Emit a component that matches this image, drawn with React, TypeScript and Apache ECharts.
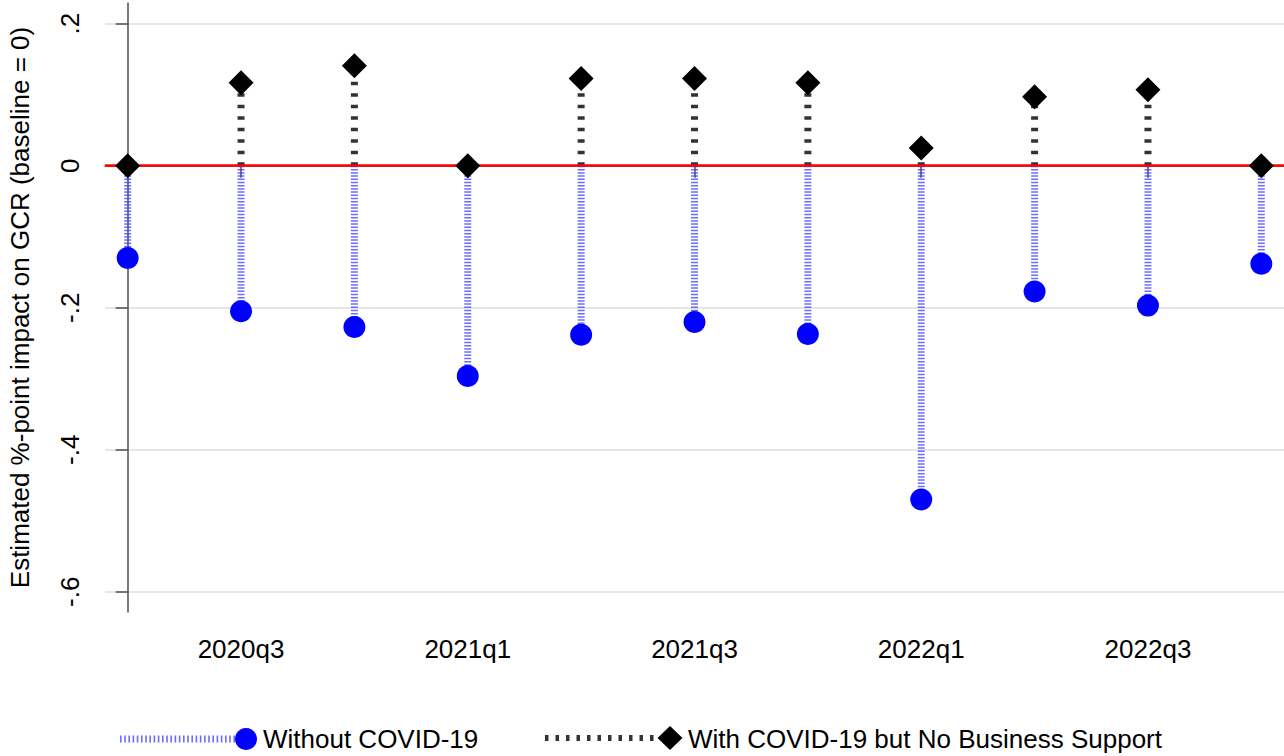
import React, { useEffect, useRef } from 'react';
import * as echarts from 'echarts';

const quarters = ['2020q2', '2020q3', '2020q4', '2021q1', '2021q2', '2021q3', '2021q4', '2022q1', '2022q2', '2022q3', '2022q4'];
const withoutCovid = [-0.130, -0.205, -0.227, -0.296, -0.238, -0.220, -0.237, -0.470, -0.177, -0.197, -0.138];
const withCovidNoSupport = [0, 0.117, 0.141, 0, 0.123, 0.123, 0.117, 0.025, 0.097, 0.107, 0];
const yTicks = [-0.6, -0.4, -0.2, 0, 0.2];
const xTickIdx = [1, 3, 5, 7, 9];
const seriesNames = ['Without COVID-19', 'With COVID-19 but No Business Support'];
const yTitle = 'Estimated %-point impact on GCR (baseline = 0)';

const FONT = '"Liberation Sans", Arial, sans-serif';
const BLUE = '#0000ff';
const AXIS = '#4d4d4d';

const fmtY = (v: number) => {
  if (Math.abs(v) < 1e-9) return '0';
  const s = Math.abs(v).toFixed(1).replace(/^0/, '');
  return (v < 0 ? '-' : '') + s;
};

const dropLine = (stroke: string, lineWidth: number, lineDash: number[], opacity: number) =>
  (params: any, api: any) => {
    const x = api.value(0);
    const y = api.value(1);
    const p0 = api.coord([x, 0]);
    const p1 = api.coord([x, y]);
    return {
      type: 'line',
      shape: { x1: p0[0], y1: p0[1], x2: p1[0], y2: p1[1] },
      style: { stroke, lineWidth, lineDash, opacity },
    };
  };

export default function App() {
  const ref = useRef<HTMLDivElement>(null);
  useEffect(() => {
    if (!ref.current) return;
    const chart = echarts.init(ref.current, undefined, { renderer: 'svg' });
    const blueData = withoutCovid.map((v, i) => [i, v]);
    const blackData = withCovidNoSupport.map((v, i) => [i, v]);
    const textStyle = { fontFamily: FONT, fontSize: 26, color: '#000' };
    chart.setOption({
      animation: false,
      backgroundColor: '#fff',
      grid: { left: 105, right: 0, top: 3, bottom: 144, containLabel: false, outerBoundsMode: 'none' },
      xAxis: {
        type: 'value',
        min: -0.2,
        max: 10.2,
        splitLine: { show: false },
        axisLine: { show: true, lineStyle: { color: AXIS, width: 1.5 } },
        axisTick: { show: true, length: 12, customValues: xTickIdx, lineStyle: { color: AXIS, width: 1.5 } },
        axisLabel: {
          customValues: xTickIdx,
          formatter: (v: number) => quarters[Math.round(v)],
          margin: 24,
          ...textStyle,
        },
      },
      yAxis: {
        type: 'value',
        min: -0.6285,
        max: 0.2292,
        name: yTitle,
        nameLocation: 'middle',
        nameGap: 72,
        nameRotate: 90,
        nameTextStyle: { ...textStyle, padding: [0, 0, 0, 0] },
        axisLine: { show: true, lineStyle: { color: AXIS, width: 1.5 } },
        axisTick: { show: true, length: 12, customValues: yTicks, lineStyle: { color: AXIS, width: 1.5 } },
        axisLabel: {
          customValues: yTicks,
          formatter: fmtY,
          rotate: 90,
          margin: 22,
          ...textStyle,
        },
        splitLine: { show: true, lineStyle: { color: '#e6e6e6', width: 2 } },
      },
      series: [
        {
          type: 'custom',
          name: seriesNames[0] + ' line',
          renderItem: dropLine('#3b3bff', 7, [1.5, 1.7], 0.75),
          encode: { x: 0, y: 1 },
          data: blueData,
          z: 2,
        },
        {
          type: 'custom',
          name: seriesNames[1] + ' line',
          renderItem: dropLine('#333333', 7, [3.5, 8], 1),
          encode: { x: 0, y: 1 },
          data: blackData,
          z: 2,
        },
        {
          type: 'line',
          data: [],
          markLine: {
            silent: true,
            symbol: 'none',
            label: { show: false },
            lineStyle: { color: '#ff0000', width: 2.5, type: 'solid' },
            data: [{ yAxis: 0 }],
          },
          z: 3,
        },
        {
          type: 'scatter',
          name: seriesNames[0],
          data: blueData,
          symbol: 'circle',
          symbolSize: 22,
          itemStyle: { color: BLUE, opacity: 1 },
          z: 5,
        },
        {
          type: 'scatter',
          name: seriesNames[1],
          data: blackData,
          symbol: 'diamond',
          symbolSize: [25, 25],
          itemStyle: { color: '#000', opacity: 1 },
          z: 5,
        },
      ],
      graphic: [
        {
          type: 'line',
          shape: { x1: 120, y1: 739, x2: 236, y2: 739 },
          style: { stroke: '#3b3bff', lineWidth: 7, lineDash: [1.6, 2.6], opacity: 0.75 },
        },
        { type: 'circle', shape: { cx: 246, cy: 739, r: 11 }, style: { fill: BLUE } },
        {
          type: 'text',
          x: 263,
          y: 739,
          style: { text: seriesNames[0], font: `26px ${FONT}`, fill: '#000', verticalAlign: 'middle', align: 'left' },
        },
        {
          type: 'line',
          shape: { x1: 545, y1: 738, x2: 660, y2: 738 },
          style: { stroke: '#333', lineWidth: 6, lineDash: [3.5, 7] },
        },
        {
          type: 'polygon',
          shape: { points: [[670, 726], [682.5, 738], [670, 750], [657.5, 738]] },
          style: { fill: '#000' },
        },
        {
          type: 'text',
          x: 688,
          y: 739,
          style: { text: seriesNames[1], font: `26px ${FONT}`, fill: '#000', verticalAlign: 'middle', align: 'left' },
        },
      ],
    });
    return () => chart.dispose();
  }, []);
  return (
    <div
      ref={ref}
      style={{ position: 'fixed', left: 0, top: 0, width: 1284, height: 756, background: '#fff' }}
    />
  );
}
